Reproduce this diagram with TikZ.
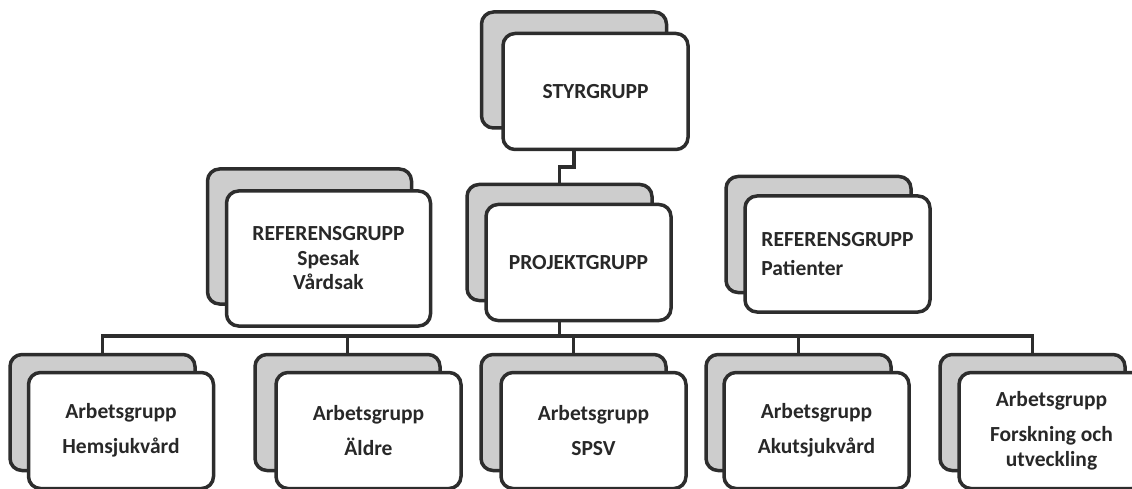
\documentclass[tikz,border=0pt]{standalone}
\usepackage{fontspec}
\setmainfont{Carlito}
\usetikzlibrary{calc}
\definecolor{boxline}{RGB}{45,45,45}
\definecolor{backgray}{RGB}{205,205,205}
\definecolor{textgray}{RGB}{40,40,40}

\begin{document}
\begin{tikzpicture}[
  x=1pt,y=-1pt,
  box/.style={draw=boxline,line width=3.5pt,rounded corners=12pt,minimum width=185pt,minimum height=116pt,inner sep=0pt},
  back/.style={box,fill=backgray},
  front/.style={box,fill=white,text=textgray,font=\fontsize{21.5}{24.5}\selectfont\bfseries,align=center},
  link/.style={draw=boxline,line width=3.5pt}]
  \useasboundingbox (0,0) rectangle (1132,489);
  % back cards
  \node[back](styrb) at(574,70){};
  \node[back,minimum width=204pt,minimum height=135pt](reflb) at(309.5,236.5){};
  \node[back](projb) at(559.5,242.5){};
  \node[back](refrb) at(818.5,234.5){};
  \node[back](hemb) at(102.5,412.5){};
  \node[back](aldb) at(347.5,412.5){};
  \node[back](spsvb) at(573.5,412.5){};
  \node[back](akutb) at(798.5,412.5){};
  \node[back](forsb) at(1032.5,412.5){};
  % front cards
  \node[front](styr) at(595.5,91.5){STYRGRUPP};
  \node[front,minimum width=204pt,minimum height=135pt](refl) at(328.5,258.5){REFERENSGRUPP\\Spesak\\Vårdsak};
  \node[front](proj) at(578.5,262.5){PROJEKTGRUPP};
  \node[front,align=left](refr) at(837.5,254){REFERENSGRUPP\\[4pt]Patienter};
  \node[front](hem) at(121,430.5){Arbetsgrupp\\[11pt]Hemsjukvård};
  \node[front](ald) at(368.5,430.5){Arbetsgrupp\\[11pt]Äldre};
  \node[front](spsv) at(593.5,430.5){Arbetsgrupp\\[11pt]SPSV};
  \node[front](akut) at(816.5,430.5){Arbetsgrupp\\[11pt]Akutsjukvård};
  \node[front](fors) at(1051.5,430.5){Arbetsgrupp\\[11pt]Forskning och\\utveckling};
  % connectors
  \coordinate(bus) at(0,336);
  \draw[link](styrb.center |- styr.south) -- ++(0,16) -| (projb.north);
  \draw[link](projb.center |- proj.south) -- (projb.center |- bus);
  \draw[link](hemb.north) -- (hemb.north |- bus) -- (forsb.north |- bus) -- (forsb.north);
  \foreach \g in {aldb,spsvb,akutb}
    \draw[link](\g.north |- bus) -- (\g.north);
\end{tikzpicture}
\end{document}
